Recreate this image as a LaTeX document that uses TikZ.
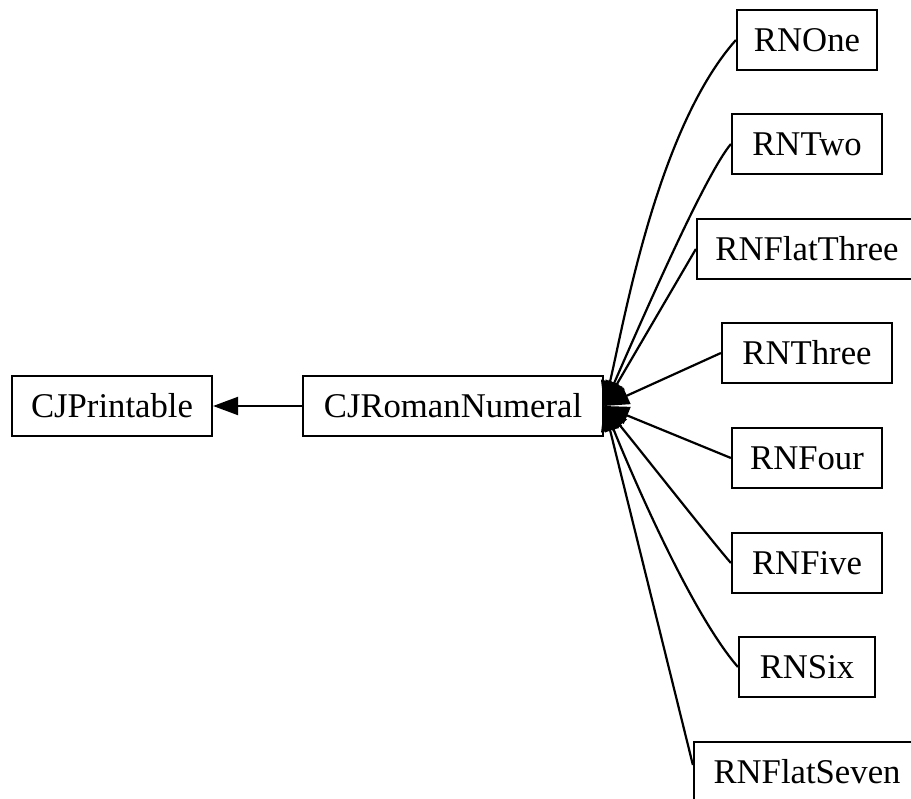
\documentclass[tikz,border=0pt]{standalone}
\usepackage{fontspec}
\setmainfont{Liberation Serif}
\usetikzlibrary{arrows.meta}
\begin{document}
\begin{tikzpicture}[x=1pt,y=-1pt,
  cls/.style={draw, line width=2.2pt, minimum height=60pt, inner sep=0pt,
              font=\fontsize{34.7}{40}\selectfont},
  inherit/.style={draw, line width=2.2pt, -{Triangle[length=25pt,width=18pt]}}]
\useasboundingbox (0,0) rectangle (911,799);
\clip (0,0) rectangle (911,799);

% class boxes
\node[cls, minimum width=200pt] (cjp)   at (112,406) {CJPrintable};
\node[cls, minimum width=300pt] (rn)    at (453,406) {CJRomanNumeral};
\node[cls, minimum width=140pt] (one)   at (807,40)  {RNOne};
\node[cls, minimum width=150pt] (two)   at (807,144) {RNTwo};
\node[cls, minimum width=220pt] (flat3) at (807,249) {RNFlatThree};
\node[cls, minimum width=170pt] (three) at (807,353) {RNThree};
\node[cls, minimum width=150pt] (four)  at (807,458) {RNFour};
\node[cls, minimum width=150pt] (five)  at (807,563) {RNFive};
\node[cls, minimum width=136pt] (six)   at (807,667) {RNSix};
\node[cls, minimum width=226pt] (seven) at (807,772) {RNFlatSeven};

% inheritance edges
\draw[inherit] (rn.west) -- (cjp.east);
\draw[inherit] (one.west) .. controls (656,130) and (623,328) .. (rn.east);
\draw[inherit] (two.west) .. controls (705,175) and (644,315) .. (rn.east);
\draw[inherit] (flat3.west) -- (rn.east);
\draw[inherit] (three.west) -- (rn.east);
\draw[inherit] (four.west) -- (rn.east);
\draw[inherit] (five.west) .. controls (715,545) and (640,450) .. (rn.east);
\draw[inherit] (six.west) .. controls (692,614) and (634,480) .. (rn.east);
\draw[inherit] ([yshift=7pt]seven.west) -- (rn.east);
\end{tikzpicture}
\end{document}
